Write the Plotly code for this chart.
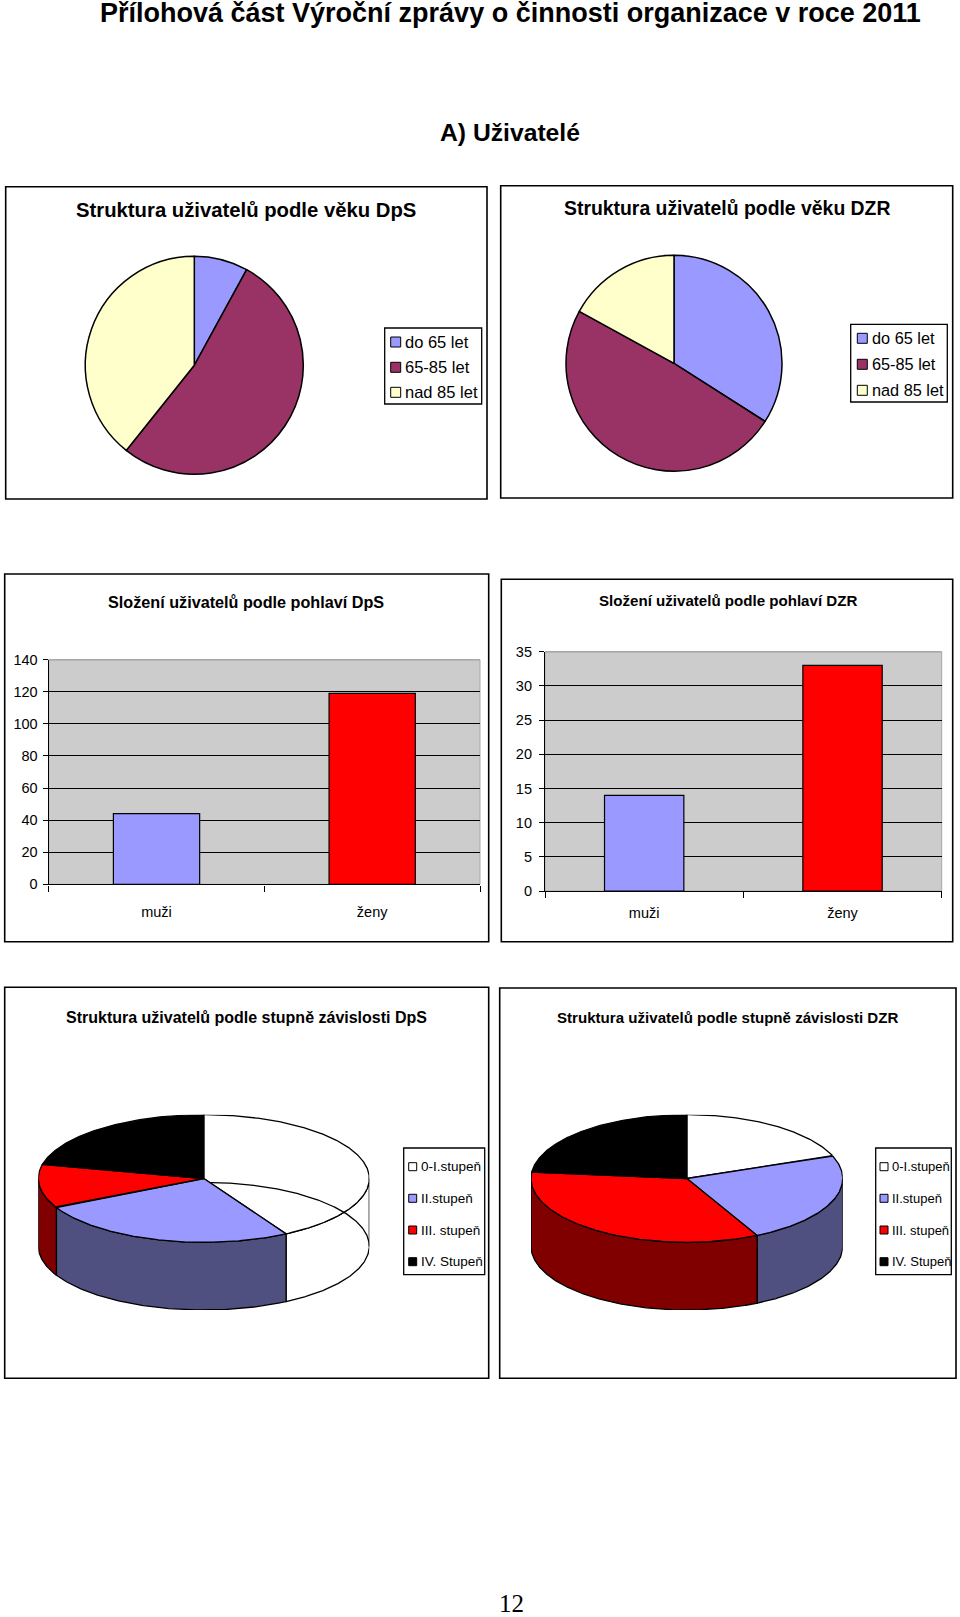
import numpy as np
import plotly.graph_objects as go

W, H = 960, 1617

# ---- data ----
age_labels = ["do 65 let", "65-85 let", "nad 85 let"]
age_dps = [13, 86, 64]
age_dzr = [16, 23, 8]
sex_labels = ["muži", "ženy"]
sex_dps = [44, 119]
sex_dzr = [14, 33]
dep_labels = ["0-I.stupeň", "II.stupeň", "III. stupeň", "IV. Stupeň"]
dep_dps = [68, 42, 18, 35]
dep_dzr = [9, 11, 16, 11]
ticks_dps = [0, 20, 40, 60, 80, 100, 120, 140]
ticks_dzr = [0, 5, 10, 15, 20, 25, 30, 35]

# ---- styles ----
AGE_COLORS = ["#9999FF", "#993366", "#FFFFCC"]
SEX_COLORS = ["#9999FF", "#FF0000"]
DEP_TOP = ["#FFFFFF", "#9999FF", "#FF0000", "#000000"]
DEP_WALL = ["#FFFFFF", "#4F4F80", "#800000", "#000000"]
ARIAL = "Liberation Sans"

px = lambda v: v / W
py = lambda v: 1 - v / H

fig = go.Figure()
shapes, notes = [], []


def text(s, x, y, size, bold=False, family=ARIAL, anchor="center"):
    notes.append(dict(text=f"<b>{s}</b>" if bold else s, x=px(x), y=py(y), xref="paper", yref="paper",
                      xanchor=anchor, yanchor="middle", showarrow=False, borderpad=0,
                      font=dict(family=family, size=size, color="#000000")))


def frame(x0, y0, x1, y1, width=1.6):
    shapes.append(dict(type="rect", xref="paper", yref="paper", x0=px(x0), x1=px(x1), y0=py(y0), y1=py(y1),
                       line=dict(color="#000000", width=width), fillcolor="rgba(0,0,0,0)", layer="below"))


def legend(box, labels, colors, ys, sw_x, sw, tx, size):
    frame(box[0], box[1], box[2], box[3], 1.3)
    for lab, col, y in zip(labels, colors, ys):
        shapes.append(dict(type="rect", xref="paper", yref="paper", x0=px(sw_x), x1=px(sw_x + sw),
                           y0=py(y - sw / 2), y1=py(y + sw / 2), fillcolor=col,
                           line=dict(color="#000000", width=1), layer="above"))
        text(lab, tx, y, size, anchor="left")


def flat_pie(values, cx, cy, r):
    fig.add_trace(go.Pie(labels=age_labels, values=values, sort=False, direction="clockwise", rotation=0,
                         textinfo="none", hoverinfo="label+value", showlegend=False,
                         marker=dict(colors=AGE_COLORS, line=dict(color="#000000", width=1.5)),
                         domain=dict(x=[px(cx - r), px(cx + r)], y=[py(cy + r), py(cy - r)])))


def bars(values, n, x0, x1, y0, y1, top, ticks, tsize, tstand, ystand):
    ax = "" if n == 1 else str(n)
    fig.add_trace(go.Bar(x=sex_labels, y=values, xaxis=f"x{ax}", yaxis=f"y{ax}", width=0.4, showlegend=False,
                         marker=dict(color=SEX_COLORS, line=dict(color="#000000", width=1.2))))
    fig.update_layout({
        f"xaxis{ax}": dict(domain=[px(x0), px(x1)], anchor=f"y{ax}", type="category", tickson="boundaries",
                           ticks="outside", ticklen=6, tickwidth=1, tickcolor="#000000", showline=True,
                           linecolor="#000000", linewidth=1.4, showgrid=False, ticklabelstandoff=tstand,
                           tickfont=dict(family=ARIAL, size=tsize, color="#000000")),
        f"yaxis{ax}": dict(domain=[py(y1), py(y0)], anchor=f"x{ax}", range=[0, top], tickmode="array",
                           tickvals=ticks, ticks="outside", ticklen=5, tickwidth=1, tickcolor="#000000",
                           showline=True, linecolor="#000000", linewidth=1.2, showgrid=True,
                           gridcolor="#000000", gridwidth=1.2, zeroline=False, ticklabelstandoff=ystand,
                           tickfont=dict(family=ARIAL, size=tsize, color="#000000")),
    })
    shapes.append(dict(type="rect", xref="paper", yref="paper", x0=px(x0), x1=px(x1), y0=py(y1), y1=py(y0),
                       fillcolor="#CCCCCC", line=dict(color="#A8A8A8", width=1), layer="below"))
    shapes.append(dict(type="line", xref="paper", yref="paper", x0=px(x0), x1=px(x1), y0=py(y0), y1=py(y0),
                       line=dict(color="#A8A8A8", width=1.6), layer="above"))


def arc(a, b, dy=0.0):
    t = np.radians(np.linspace(a, b, max(int(abs(b - a)) * 2, 2)))
    return np.sin(t), np.cos(t) + dy


def pie3d(values, n, x0, x1, y_top, y_bottom, ry):
    ax = str(n)
    depth = (y_bottom - y_top) / ry - 2
    xa, ya = f"x{ax}", f"y{ax}"
    fig.update_layout({
        f"xaxis{ax}": dict(domain=[px(x0), px(x1)], range=[-1, 1], visible=False, anchor=ya),
        f"yaxis{ax}": dict(domain=[py(y_bottom), py(y_top)], range=[-1 - depth, 1], visible=False, anchor=xa),
    })
    edges = np.concatenate([[0], np.cumsum(values)]) / sum(values) * 360

    def poly(xs, ys, color, fill=True):
        fig.add_trace(go.Scatter(x=xs, y=ys, xaxis=xa, yaxis=ya, mode="lines", showlegend=False, cliponaxis=False,
                                 fill="toself" if fill else None, fillcolor=color, hoverinfo="skip",
                                 line=dict(color="#000000", width=1.3)))

    # side walls: only the front half of the disc shows
    for i in range(len(values)):
        lo, hi = max(edges[i], 90), min(edges[i + 1], 270)
        if hi > lo:
            tx, ty = arc(lo, hi)
            bx, by = arc(hi, lo, -depth)
            poly(np.r_[tx, bx, tx[0]], np.r_[ty, by, ty[0]], DEP_WALL[i])

    def top(i):
        tx, ty = arc(edges[i], edges[i + 1])
        poly(np.r_[0, tx, 0], np.r_[0, ty, 0], DEP_TOP[i])

    top(0)
    # unfilled first slice lets the rear bottom rim show through when it wraps the front
    if edges[1] > 90:
        gx, gy = arc(0, 90, -depth)
        poly(gx, gy, "rgba(0,0,0,0)", fill=False)
    for i in range(1, len(values)):
        top(i)


# ---- page text ----
text("Přílohová část Výroční zprávy o činnosti organizace v roce 2011", 510, 13, 27, bold=True)
text("A) Uživatelé", 510, 133, 24.7, bold=True)
text("12", 511, 1603, 25, family="Liberation Serif")

# ---- age pies ----
frame(5.7, 186.7, 487, 499)
text("Struktura uživatelů podle věku DpS", 246.3, 210, 20.3, bold=True)
flat_pie(age_dps, 194.3, 365.3, 109)
legend((384.7, 328, 481.7, 404), age_labels, AGE_COLORS, [342, 367.3, 392.3], 390.7, 10, 404, 16.5)

frame(500.7, 185.7, 952.7, 498)
text("Struktura uživatelů podle věku DZR", 726.8, 207.7, 19.4, bold=True)
flat_pie(age_dzr, 674, 363.3, 108)
legend((850.7, 324.3, 947.3, 402), age_labels, AGE_COLORS, [338.3, 364.3, 390.3], 857.3, 10, 870.7, 16.3)

# ---- sex bars ----
frame(4.7, 574, 488.7, 941.7)
text("Složení uživatelů podle pohlaví DpS", 246, 601.7, 16.2, bold=True)
bars(sex_dps, 1, 48.7, 480, 659.7, 884.3, 140, ticks_dps, 14.5, 14, 2)

frame(501.3, 579.3, 952.7, 941.7)
text("Složení uživatelů podle pohlaví DZR", 728.3, 601, 15.1, bold=True)
bars(sex_dzr, 2, 545, 941.7, 651.7, 891, 35, ticks_dzr, 14.5, 8, 4)

# ---- dependency 3D pies ----
frame(4.7, 987.3, 488.7, 1378.3)
text("Struktura uživatelů podle stupně závislosti DpS", 246.7, 1017, 16, bold=True)
pie3d(dep_dps, 3, 38.3, 369.3, 1114.7, 1310, 63.8)
legend((403.7, 1148, 484.7, 1274.7), dep_labels, DEP_TOP, [1166.7, 1198.3, 1230, 1261.7], 408.7, 8, 420.3, 13.5)

frame(499.7, 988, 956, 1378.3)
text("Struktura uživatelů podle stupně závislosti DZR", 727.5, 1017.5, 15.1, bold=True)
pie3d(dep_dzr, 4, 531, 842.7, 1114.7, 1310, 63.8)
legend((875.7, 1148, 951.3, 1274.7), dep_labels, DEP_TOP, [1166.7, 1198.3, 1230, 1261.7], 880, 8, 891.3, 13)

fig.update_layout(width=W, height=H, autosize=False, margin=dict(l=0, r=0, t=0, b=0, autoexpand=False), bargap=0.6,
                  paper_bgcolor="#FFFFFF", plot_bgcolor="rgba(0,0,0,0)", shapes=shapes, annotations=notes,
                  showlegend=False)
fig.write_html("out.html", config={"displayModeBar": False},
               post_script="document.body.style.margin='0';document.body.style.overflow='hidden';")
